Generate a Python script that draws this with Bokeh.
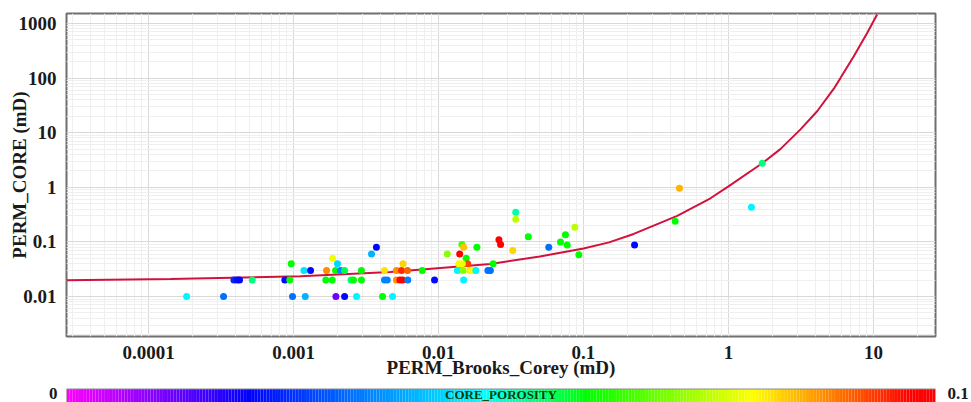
import numpy as np
from bokeh.plotting import figure
from bokeh.models import Range1d, FixedTicker, ColumnDataSource, CustomJSTickFormatter, LinearAxis
from bokeh.layouts import column
from bokeh.transform import linear_cmap
from bokeh.core.properties import value
from bokeh.embed import file_html
from bokeh.resources import INLINE

# ---------------- data ----------------
perm_brooks_corey = [
    1.83e-4, 3.29e-4, 3.88e-4, 4.09e-4, 4.24e-4, 5.19e-4, 8.71e-4, 9.42e-4, 9.64e-4, 9.84e-4,
    1.205e-3, 1.18e-3, 1.31e-3, 1.69e-3, 1.86e-3, 2.01e-3, 1.95e-3, 2.11e-3, 2.25e-3, 1.67e-3,
    1.85e-3, 1.96e-3, 2.25e-3, 2.49e-3, 2.59e-3, 2.72e-3, 2.94e-3, 2.94e-3, 3.45e-3, 3.73e-3,
    4.11e-3, 4.24e-3, 4.24e-3, 4.43e-3, 4.82e-3, 5.13e-3, 5.56e-3, 6.11e-3, 5.69e-3, 5.13e-3,
    5.42e-3, 5.65e-3, 6.14e-3, 7.72e-3, 9.39e-3, 1.15e-2, 1.40e-2, 1.45e-2, 1.49e-2, 1.55e-2,
    1.59e-2, 1.38e-2, 1.46e-2, 1.35e-2, 1.48e-2, 1.64e-2, 1.72e-2, 1.81e-2, 1.49e-2, 1.84e-2,
    2.19e-2, 2.28e-2, 2.38e-2, 2.61e-2, 2.68e-2, 3.25e-2, 3.41e-2, 3.41e-2, 4.16e-2, 5.76e-2,
    6.94e-2, 7.51e-2, 7.72e-2, 8.71e-2, 9.29e-2, 0.225, 0.429, 0.459, 1.44, 1.71,
]
perm_core = [
    0.01, 0.01, 0.02, 0.02, 0.02, 0.02, 0.02, 0.02, 0.04, 0.01,
    0.01, 0.03, 0.03, 0.03, 0.05, 0.04, 0.03, 0.03, 0.03, 0.02,
    0.02, 0.01, 0.01, 0.02, 0.02, 0.01, 0.03, 0.02, 0.06, 0.08,
    0.01, 0.03, 0.02, 0.02, 0.01, 0.03, 0.03, 0.03, 0.04, 0.02,
    0.02, 0.02, 0.02, 0.03, 0.02, 0.06, 0.06, 0.09, 0.08, 0.05,
    0.04, 0.04, 0.04, 0.03, 0.03, 0.03, 0.03, 0.03, 0.02, 0.08,
    0.03, 0.03, 0.04, 0.11, 0.09, 0.07, 0.35, 0.26, 0.125, 0.08,
    0.10, 0.135, 0.088, 0.185, 0.058, 0.088, 0.24, 0.96, 0.43, 2.75,
]
core_porosity = [
    0.047, 0.033, 0.025, 0.022, 0.022, 0.054, 0.022, 0.060, 0.060, 0.033,
    0.040, 0.045, 0.022, 0.087, 0.078, 0.044, 0.060, 0.035, 0.056, 0.060,
    0.060, 0.012, 0.022, 0.054, 0.060, 0.047, 0.060, 0.060, 0.040, 0.022,
    0.060, 0.081, 0.035, 0.035, 0.047, 0.087, 0.094, 0.090, 0.082, 0.087,
    0.097, 0.097, 0.035, 0.060, 0.022, 0.070, 0.097, 0.065, 0.083, 0.060,
    0.092, 0.078, 0.078, 0.047, 0.070, 0.080, 0.078, 0.047, 0.047, 0.060,
    0.033, 0.033, 0.060, 0.097, 0.097, 0.082, 0.052, 0.074, 0.060, 0.033,
    0.060, 0.060, 0.060, 0.074, 0.060, 0.022, 0.060, 0.084, 0.047, 0.054,
]
# fitted trend curve
curve_x = [2.72e-5, 1.42e-4, 1.117e-3, 4.67e-3, 0.0228, 0.05, 0.1, 0.15, 0.222, 0.443,
           0.751, 1.0, 1.72, 2.28, 3.14, 4.09, 5.33, 5.92, 7.32, 9.05, 10.6]
curve_y = [0.0198, 0.0209, 0.0234, 0.0281, 0.0395, 0.054, 0.076, 0.098, 0.140, 0.30,
           0.63, 1.04, 2.79, 5.0, 11.5, 24.7, 64.0, 100.0, 251.0, 670.0, 1456.0]

x_ticks = [1e-4, 1e-3, 1e-2, 0.1, 1, 10]
x_tick_labels = ["0.0001", "0.001", "0.01", "0.1", "1", "10"]
y_ticks = [0.01, 0.1, 1, 10, 100, 1000]
y_tick_labels = ["0.01", "0.1", "1", "10", "100", "1000"]
porosity_low, porosity_high = 0.0, 0.1
porosity_low_label, porosity_high_label = "0", "0.1"
x_label = "PERM_Brooks_Corey (mD)"
y_label = "PERM_CORE (mD)"
color_label = "CORE_POROSITY"

# ---------------- colour scale ----------------
stops = [(0.0, (255, 0, 255)), (0.21, (0, 0, 255)), (0.48, (0, 255, 255)),
         (0.60, (0, 255, 0)), (0.79, (255, 255, 0)), (0.97, (255, 0, 0)), (1.0, (255, 0, 0))]

def cmap(t):
    for (t0, c0), (t1, c1) in zip(stops[:-1], stops[1:]):
        if t <= t1:
            f = 0 if t1 == t0 else (t - t0) / (t1 - t0)
            c = [round(a + (b - a) * f) for a, b in zip(c0, c1)]
            return "#%02x%02x%02x" % tuple(c)
    return "#ff0000"

palette = [cmap(t) for t in np.linspace(0, 1, 256)]

FONT = "Liberation Serif"
TXT = "#1a1a1a"

def minor_list(lo, hi):
    return [k * 10.0 ** d for d in range(lo, hi) for k in range(2, 10)]

def label_formatter(ticks, labels):
    return CustomJSTickFormatter(args=dict(t=ticks, l=labels), code="""
for (let i = 0; i < t.length; i++) { if (Math.abs(Math.log10(tick) - Math.log10(t[i])) < 1e-6) return l[i]; }
return '';""")

def style_axis(ax, size="19px"):
    ax.axis_line_color = None
    ax.major_tick_line_color = None
    ax.minor_tick_line_color = None
    ax.major_label_text_font = FONT
    ax.major_label_text_font_style = "bold"
    ax.major_label_text_font_size = size
    ax.major_label_text_color = TXT
    ax.axis_label_text_font = FONT
    ax.axis_label_text_font_style = "bold"
    ax.axis_label_text_font_size = "19px"
    ax.axis_label_text_color = TXT

# ---------------- main figure ----------------
p = figure(width=971, height=380, x_axis_type="log", y_axis_type="log",
           x_range=Range1d(10 ** -4.566, 10 ** 1.428),
           y_range=Range1d(10 ** -2.732, 10 ** 3.183),
           output_backend="svg", toolbar_location=None,
           min_border_left=66, min_border_right=36, min_border_top=13, min_border_bottom=44)
p.background_fill_color = "white"
p.border_fill_color = "white"
p.outline_line_color = "#6f6f6f"
p.outline_line_width = 2

p.xaxis.ticker = FixedTicker(ticks=x_ticks, minor_ticks=minor_list(-5, 2))
p.yaxis.ticker = FixedTicker(ticks=y_ticks, minor_ticks=minor_list(-3, 4))
p.xaxis.formatter = label_formatter(x_ticks, x_tick_labels)
p.yaxis.formatter = label_formatter(y_ticks, y_tick_labels)
style_axis(p.xaxis[0])
style_axis(p.yaxis[0])

p.xaxis.axis_label = x_label
p.yaxis.axis_label = y_label
p.xaxis.major_label_standoff = 3
p.xaxis.axis_label_standoff = -5
p.yaxis.major_label_standoff = 4
p.yaxis.axis_label_standoff = -14

for g in (p.xgrid, p.ygrid):
    g.grid_line_color = "#d9d9d9"
    g.grid_line_width = 1
    g.minor_grid_line_color = "#efefef"
    g.minor_grid_line_width = 1

p.line(curve_x, curve_y, line_color="#d2123c", line_width=2)

src = ColumnDataSource(dict(x=perm_brooks_corey, y=perm_core, por=core_porosity))
p.scatter(x="x", y="y", source=src, marker="circle", size=7,
          fill_color=linear_cmap("por", palette, porosity_low, porosity_high), line_color=None)

# ---------------- colour bar strip (frame aligns with main frame) ----------------
cb = figure(width=971, height=22, x_range=Range1d(porosity_low, porosity_high),
            y_range=Range1d(-7, 15),
            output_backend="svg", toolbar_location=None,
            x_axis_location=None, y_axis_location=None,
            min_border_left=66, min_border_right=36, min_border_top=0, min_border_bottom=0)
cb.outline_line_color = None
cb.xgrid.visible = False
cb.ygrid.visible = False
cb.background_fill_color = "white"
cb.border_fill_color = "white"

ax_l = LinearAxis(ticker=FixedTicker(ticks=[2]))
ax_r = LinearAxis(ticker=FixedTicker(ticks=[2]))
for ax in (ax_l, ax_r):
    style_axis(ax, "17px")
ax_l.formatter = CustomJSTickFormatter(args=dict(s=porosity_low_label), code="return s;")
ax_r.formatter = CustomJSTickFormatter(args=dict(s=porosity_high_label), code="return s;")
ax_l.major_label_standoff = 3
ax_r.major_label_standoff = 6
cb.add_layout(ax_l, "left")
cb.add_layout(ax_r, "right")

n = 300
edges = np.linspace(porosity_low, porosity_high, n + 1)
cols = [cmap(t) for t in (np.arange(n) + 0.5) / n]
cb.quad(left=edges[:-1], right=edges[1:], bottom=-7.5, top=6.5, fill_color=cols, line_color=None)
cb.quad(left=[porosity_low], right=[porosity_high], bottom=[-7.5], top=[6.5],
        fill_color=None, line_color="#8a8a8a", line_width=1)
cb.text(x=[(porosity_low + porosity_high) / 2], y=[1.0], text=[color_label],
        text_font=value(FONT), text_font_style="bold", text_font_size="13px",
        text_color="#0a3d0a", text_align="center", text_baseline="middle")

layout = column(p, cb, spacing=0)
open("out.html", "w").write(file_html(layout, INLINE))
